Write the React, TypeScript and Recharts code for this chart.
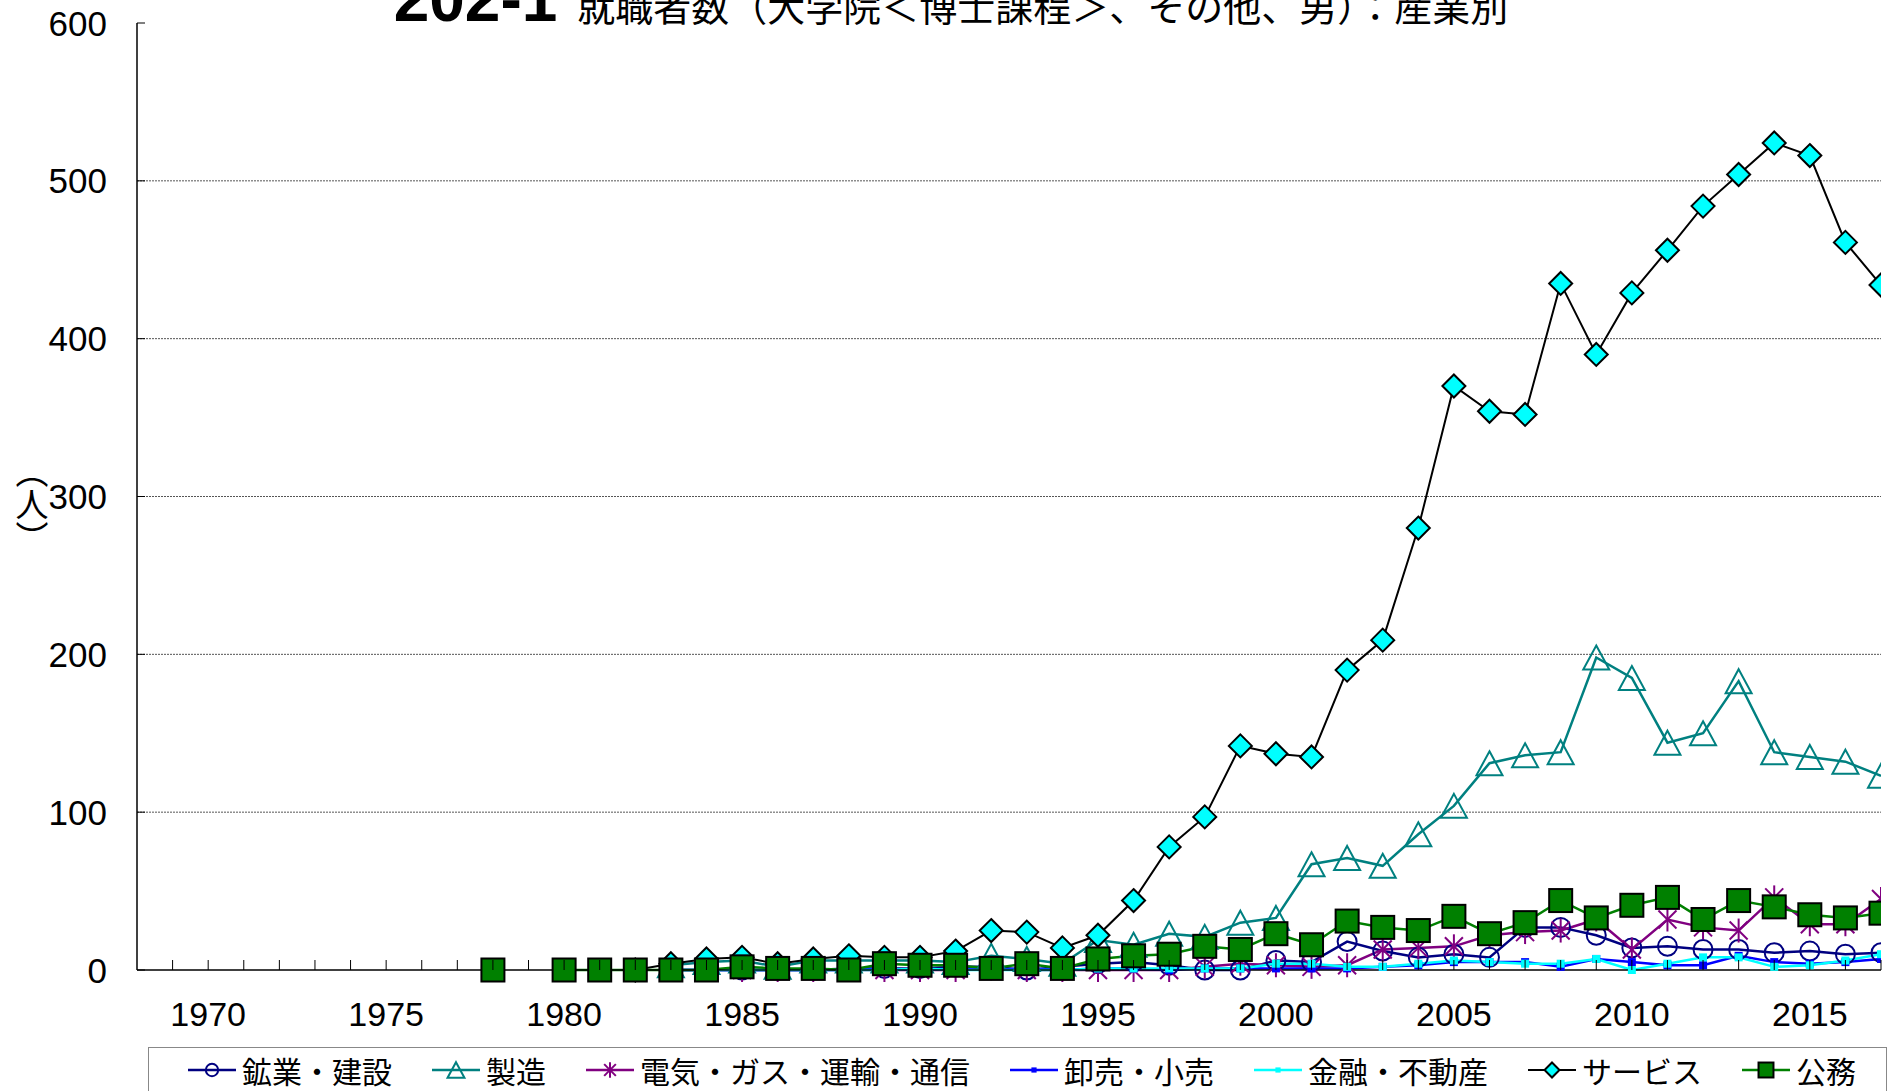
import React from 'react';
import { LineChart, Line, XAxis, YAxis, ReferenceLine } from 'recharts';

const years = [
  1978, 1979, 1980, 1981, 1982, 1983, 1984, 1985, 1986, 1987,
  1988, 1989, 1990, 1991, 1992, 1993, 1994, 1995, 1996, 1997,
  1998, 1999, 2000, 2001, 2002, 2003, 2004, 2005, 2006, 2007,
  2008, 2009, 2010, 2011, 2012, 2013, 2014, 2015, 2016, 2017,
];

// 鉱業・建設
const mining = [
  null, null, null, null, null, 0, 0, 0, 0, 0,
  1, 1, 1, 2, 2, 0, 2, 4, 5, 3,
  0, 0, 6, 5, 18, 12, 8, 10, 8, 27,
  27, 22, 14, 15, 13, 13, 11, 12, 10, 11,
];
// 製造
const manufacturing = [
  null, null, null, null, null, 3, 5, 6, 2, 6,
  6, 6, 6, 5, 9, 7, 4, 19, 16, 23,
  21, 30, 33, 67, 71, 66, 86, 104, 131, 136,
  138, 198, 185, 144, 150, 183, 138, 135, 132, 123,
];
// 電気・ガス・運輸・通信
const utilities = [
  null, null, null, null, null, 0, 0, 0, 0, 0,
  0, 0, 0, 0, 1, 0, 0, 0, 0, 0,
  2, 4, 3, 2, 3, 13, 14, 15, 22, 24,
  25, 32, 13, 32, 27, 25, 46, 29, 29, 45,
];
// 卸売・小売
const wholesale = [
  null, null, null, null, null, 0, 0, 0, 0, 0,
  0, 1, 0, 1, 0, 1, 0, 1, 1, 0,
  1, 1, 1, 1, 1, 2, 3, 5, 5, 5,
  2, 7, 5, 3, 3, 9, 5, 4, 5, 7,
];
// 金融・不動産
const finance = [
  null, null, null, null, null, 0, 0, 0, 0, 0,
  0, 0, 1, 0, 0, 0, 0, 1, 1, 1,
  1, 1, 4, 4, 2, 2, 4, 6, 5, 4,
  4, 7, 0, 4, 8, 8, 2, 3, 6, 10,
];
// サービス
const services = [
  null, null, null, null, 0, 4, 7, 8, 4, 7,
  9, 8, 8, 12, 25, 24, 14, 22, 44, 78,
  97, 142, 137, 135, 190, 209, 280, 370, 354, 352,
  435, 390, 429, 456, 484, 504, 524, 516, 461, 434,
];
// 公務
const publicService = [
  0, null, 0, 0, 0, 0, 0, 2, 1, 1,
  0, 4, 3, 3, 1, 4, 1, 7, 9, 10,
  15, 13, 23, 16, 31, 27, 25, 34, 23, 30,
  44, 33, 41, 46, 32, 44, 40, 35, 33, 36,
];

const seriesNames = ['鉱業・建設', '製造', '電気・ガス・運輸・通信', '卸売・小売', '金融・不動産', 'サービス', '公務'];

const yTicks = [0, 100, 200, 300, 400, 500, 600];
const gridValues = [100, 200, 300, 400, 500];
const xTicks = [
  1969, 1970, 1971, 1972, 1973, 1974, 1975, 1976, 1977, 1978,
  1979, 1980, 1981, 1982, 1983, 1984, 1985, 1986, 1987, 1988,
  1989, 1990, 1991, 1992, 1993, 1994, 1995, 1996, 1997, 1998,
  1999, 2000, 2001, 2002, 2003, 2004, 2005, 2006, 2007, 2008,
  2009, 2010, 2011, 2012, 2013, 2014, 2015, 2016, 2017,
];
const xLabelYears = [1970, 1975, 1980, 1985, 1990, 1995, 2000, 2005, 2010, 2015];

const data = years.map((year, i) => ({
  year,
  mining: mining[i],
  manufacturing: manufacturing[i],
  utilities: utilities[i],
  wholesale: wholesale[i],
  finance: finance[i],
  services: services[i],
  publicService: publicService[i],
}));

type MarkerKind = 'circle' | 'triangle' | 'star' | 'smallSquare' | 'diamond' | 'square';

const series: { key: string; name: string; color: string; marker: MarkerKind; width: number }[] = [
  { key: 'mining', name: seriesNames[0], color: '#000080', marker: 'circle', width: 2.5 },
  { key: 'manufacturing', name: seriesNames[1], color: '#008080', marker: 'triangle', width: 2.5 },
  { key: 'utilities', name: seriesNames[2], color: '#800080', marker: 'star', width: 2.5 },
  { key: 'wholesale', name: seriesNames[3], color: '#0000ff', marker: 'smallSquare', width: 2.5 },
  { key: 'finance', name: seriesNames[4], color: '#00ffff', marker: 'smallSquare', width: 2.5 },
  { key: 'services', name: seriesNames[5], color: '#000000', marker: 'diamond', width: 2 },
  { key: 'publicService', name: seriesNames[6], color: '#008000', marker: 'square', width: 2.5 },
];

const FONT = '"Liberation Sans", Arial, sans-serif';
const JP = '"Noto Sans CJK JP", sans-serif';

function Marker({ kind, cx, cy, color, s = 1 }: { kind: MarkerKind; cx: number; cy: number; color: string; s?: number }) {
  switch (kind) {
    case 'circle':
      return <circle cx={cx} cy={cy} r={9.5 * s} fill="none" stroke={color} strokeWidth={2} />;
    case 'triangle': {
      const h = 12 * s;
      const w = 13 * s;
      return (
        <polygon
          points={`${cx},${cy - h} ${cx + w},${cy + h} ${cx - w},${cy + h}`}
          fill="none"
          stroke={color}
          strokeWidth={2}
        />
      );
    }
    case 'star': {
      const r = 12 * s;
      const d = r * 0.75;
      return (
        <g stroke={color} strokeWidth={2}>
          <line x1={cx} y1={cy - r} x2={cx} y2={cy + r} />
          <line x1={cx - d} y1={cy - d} x2={cx + d} y2={cy + d} />
          <line x1={cx - d} y1={cy + d} x2={cx + d} y2={cy - d} />
        </g>
      );
    }
    case 'smallSquare': {
      const h = 4 * s;
      return <rect x={cx - h} y={cy - h} width={2 * h} height={2 * h} fill={color} />;
    }
    case 'diamond': {
      const h = 11.5 * s;
      return (
        <polygon
          points={`${cx},${cy - h} ${cx + h},${cy} ${cx},${cy + h} ${cx - h},${cy}`}
          fill="#00ffff"
          stroke="#000"
          strokeWidth={2}
        />
      );
    }
    case 'square': {
      const h = 11.5 * s;
      return <rect x={cx - h} y={cy - h} width={2 * h} height={2 * h} fill="#008000" stroke="#000" strokeWidth={2} />;
    }
  }
  return null;
}

const renderXTick = (props: any) => {
  const { x, y, payload } = props;
  const year = payload.value;
  return (
    <g key={`xt-${year}`}>
      <line x1={x} x2={x} y1={y} y2={y - 10} stroke="#000" strokeWidth={1} />
      {xLabelYears.includes(year) && (
        <text x={x} y={y + 56} textAnchor="middle" fontSize={34} fontFamily={FONT} fill="#000">
          {year}
        </text>
      )}
    </g>
  );
};

const renderYTick = (props: any) => {
  const { x, y, payload } = props;
  return (
    <g key={`yt-${payload.value}`}>
      <line x1={x} x2={x + 8} y1={y} y2={y} stroke="#000" strokeWidth={1} />
      <text x={x - 30} y={y} dy="0.36em" textAnchor="end" fontSize={35} fontFamily={FONT} fill="#000">
        {payload.value}
      </text>
    </g>
  );
};

export default function App() {
  return (
    <div style={{ position: 'absolute', left: 0, top: 0, width: 1902, height: 1091, overflow: 'hidden', background: '#fff' }}>
      <LineChart
        width={1902}
        height={1091}
        data={data}
        margin={{ top: 23, right: 21, bottom: 61, left: 0 }}
        style={{ position: 'absolute', left: 0, top: 0 }}
      >
        <XAxis
          dataKey="year"
          type="number"
          domain={[1968, 2017]}
          ticks={xTicks}
          interval={0}
          tickSize={0}
          tickMargin={0}
          height={60}
          axisLine={{ stroke: '#000', strokeWidth: 1.5 }}
          tick={renderXTick}
          allowDataOverflow
        />
        <YAxis
          type="number"
          domain={[0, 600]}
          ticks={yTicks}
          interval={0}
          width={137}
          tickSize={0}
          tickMargin={0}
          axisLine={{ stroke: '#000', strokeWidth: 1.5 }}
          tick={renderYTick}
        />
        {gridValues.map((v) => (
          <ReferenceLine key={v} y={v} stroke="#555" strokeWidth={1} strokeDasharray="2 1" />
        ))}
        {series.map((s) => (
          <Line
            key={s.key}
            dataKey={s.key}
            name={s.name}
            type="linear"
            stroke={s.color}
            strokeWidth={s.width}
            connectNulls={false}
            isAnimationActive={false}
            activeDot={false}
            dot={(p: any) => {
              if (p.cy == null || p.value == null) return <g key={`${s.key}-${p.index}`} />;
              return (
                <g key={`${s.key}-${p.index}`}>
                  <Marker kind={s.marker} cx={p.cx} cy={p.cy} color={s.color} />
                </g>
              );
            }}
          />
        ))}
      </LineChart>

      <svg width={1902} height={1091} style={{ position: 'absolute', left: 0, top: 0, pointerEvents: 'none' }}>
        <text x={951} y={21} textAnchor="middle" fill="#000">
          <tspan fontFamily={FONT} fontWeight="bold" fontSize={64}>202-1</tspan>
          <tspan dx={20} fontFamily={JP} fontSize={38}>就職者数（大学院＜博士課程＞、その他、男）：産業別</tspan>
        </text>
        <text x={32} y={455} fontFamily={JP} fontSize={33} fill="#000" style={{ writingMode: 'vertical-rl' as any }}>
          （人）
        </text>
      </svg>

      <div
        style={{
          position: 'absolute',
          left: 148,
          top: 1047,
          width: 1739,
          height: 60,
          boxSizing: 'border-box',
          border: '1px solid #888',
          display: 'flex',
          alignItems: 'flex-start',
          gap: 40,
          paddingLeft: 39,
          paddingTop: 7,
          fontFamily: JP,
          fontSize: 30,
          lineHeight: '30px',
          color: '#000',
          whiteSpace: 'nowrap',
        }}
      >
        {series.map((s) => (
          <div key={s.key} style={{ display: 'flex', alignItems: 'center', gap: 6 }}>
            <svg width={48} height={30}>
              <line x1={0} x2={48} y1={15} y2={15} stroke={s.color} strokeWidth={s.width} />
              <Marker kind={s.marker} cx={24} cy={15} color={s.color} s={0.65} />
            </svg>
            <span>{s.name}</span>
          </div>
        ))}
      </div>
    </div>
  );
}
